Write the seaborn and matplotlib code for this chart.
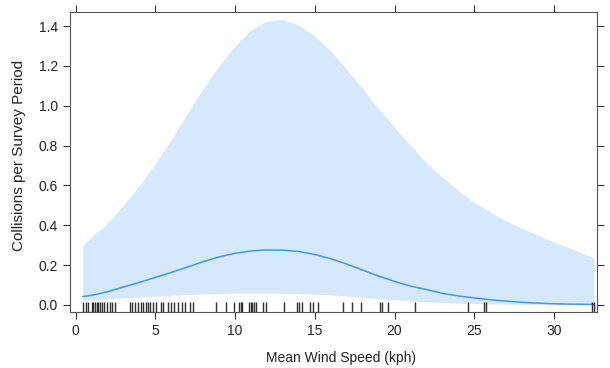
import matplotlib
matplotlib.use("Agg")
import matplotlib.pyplot as plt
import pandas as pd
import seaborn as sns

# effect curve
wind = [0.45, 1, 2, 3, 4, 5, 6, 7, 8, 9, 10, 11, 12, 13, 14, 15, 16, 17,
        18, 19, 20, 21, 22, 23, 24, 25, 26, 27, 28, 29, 30, 31, 32, 32.5]
fit = [0.042, 0.048, 0.066, 0.09, 0.113, 0.138, 0.163, 0.19, 0.217, 0.241,
       0.259, 0.271, 0.276, 0.275, 0.268, 0.253, 0.232, 0.205, 0.175, 0.145,
       0.118, 0.095, 0.077, 0.058, 0.045, 0.035, 0.026, 0.019, 0.013, 0.009,
       0.006, 0.004, 0.003, 0.003]
upper = [0.30, 0.34, 0.41, 0.50, 0.60, 0.71, 0.83, 0.96, 1.085, 1.2, 1.3,
         1.38, 1.425, 1.432, 1.405, 1.35, 1.275, 1.182, 1.085, 0.985, 0.89,
         0.80, 0.715, 0.64, 0.573, 0.515, 0.467, 0.422, 0.385, 0.35, 0.315,
         0.285, 0.252, 0.235]
lower = [0.022, 0.024, 0.03, 0.035, 0.04, 0.044, 0.048, 0.052, 0.055, 0.058,
         0.059, 0.06, 0.06, 0.059, 0.057, 0.054, 0.05, 0.045, 0.038, 0.032,
         0.026, 0.021, 0.016, 0.012, 0.009, 0.007, 0.005, 0.004, 0.003, 0.002,
         0.0015, 0.001, 0.0007, 0.0006]

# observed wind speeds (rug)
obs_wind = [0.49, 0.64, 0.76, 1.02, 1.12, 1.22, 1.33, 1.43, 1.54, 1.68, 1.79,
            1.99, 2.16, 2.31, 2.48, 3.42, 3.56, 3.73, 3.90, 4.09, 4.21, 4.40,
            4.56, 4.67, 4.88, 5.05, 5.36, 5.50, 5.82, 5.97, 6.18, 6.41, 6.66,
            6.86, 7.18, 7.39, 8.79, 9.44, 9.96, 10.25, 10.36, 10.46, 10.90,
            10.98, 11.08, 11.21, 11.32, 11.77, 11.94, 13.07, 13.87, 14.01,
            14.18, 14.70, 14.91, 15.22, 16.79, 17.32, 17.88, 19.09, 19.24,
            19.57, 21.29, 24.63, 25.61, 25.74, 32.40, 32.51]

x_ticks = [0, 5, 10, 15, 20, 25, 30]
y_ticks = [0.0, 0.2, 0.4, 0.6, 0.8, 1.0, 1.2, 1.4]

sns.set_style("ticks")
plt.rcParams["font.family"] = ["Liberation Sans", "DejaVu Sans"]

df = pd.DataFrame({"wind": wind, "fit": fit, "upper": upper, "lower": lower})

fig = plt.figure(figsize=(6.1, 3.68), dpi=100)
ax = fig.add_axes([0.1148, 0.153, 0.8639, 0.8136])

ax.fill_between(df["wind"], df["lower"], df["upper"], color="#d6e8fc", linewidth=0)
sns.lineplot(data=df, x="wind", y="fit", ax=ax, color="#3d9bf5", linewidth=1.1)
sns.rugplot(x=obs_wind, ax=ax, height=0.034, color="#1a1a1a", linewidth=1.0, alpha=0.9)

ax.set_xlim(-0.35, 32.7)
ax.set_ylim(-0.034, 1.469)
ax.set_xticks(x_ticks)
ax.set_yticks(y_ticks)
ax.set_yticklabels([f"{v:.1f}" for v in y_ticks])

ax.tick_params(direction="out", top=True, right=True, labeltop=False, labelright=False,
               length=5, width=0.8, color="#333333", labelsize=10, labelcolor="#222222")
for sp in ax.spines.values():
    sp.set_visible(True)
    sp.set_color("#555555")
    sp.set_linewidth(0.8)

ax.set_xlabel("Mean Wind Speed (kph)", fontsize=10, color="#222222")
ax.set_ylabel("Collisions per Survey Period", fontsize=11, color="#222222")
ax.xaxis.set_label_coords(0.514, -0.13)
ax.yaxis.set_label_coords(-0.084, 0.523)

fig.savefig("out.png", dpi=100)
